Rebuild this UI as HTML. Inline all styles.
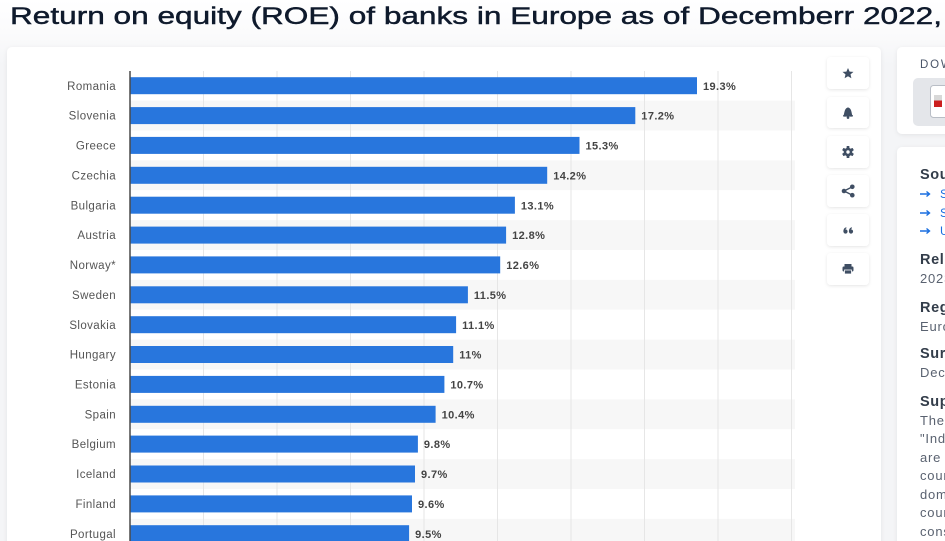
<!DOCTYPE html>
<html><head><meta charset="utf-8">
<style>
html,body{margin:0;padding:0;width:945px;height:541px;overflow:hidden;background:#f4f5f7;}
svg{display:block;}
text{font-family:"Liberation Sans",Arial,sans-serif;}
</style></head>
<body>
<svg width="945" height="541" viewBox="0 0 945 541" xmlns="http://www.w3.org/2000/svg">
<defs>
<linearGradient id="bg" x1="0" y1="0" x2="0" y2="1">
<stop offset="0" stop-color="#ffffff"/><stop offset="0.06" stop-color="#fbfbfc"/><stop offset="0.12" stop-color="#f4f5f7"/><stop offset="1" stop-color="#f4f5f7"/>
</linearGradient>
<filter id="sh" x="-10%" y="-10%" width="120%" height="120%"><feDropShadow dx="0" dy="1" stdDeviation="2" flood-color="#000" flood-opacity="0.07"/></filter>
<filter id="sh2" x="-30%" y="-30%" width="160%" height="160%"><feDropShadow dx="0" dy="1" stdDeviation="1.5" flood-color="#000" flood-opacity="0.10"/></filter>
</defs>
<rect x="0" y="0" width="945" height="541" fill="url(#bg)"/>
<text x="10" y="24" font-size="24" fill="#0f1a2c" stroke="#0f1a2c" stroke-width="0.45" textLength="932" lengthAdjust="spacingAndGlyphs">Return on equity (ROE) of banks in Europe as of Decemberr 2022,</text>

<!-- main card -->
<rect x="7" y="47" width="874" height="520" rx="5" fill="#ffffff" filter="url(#sh)"/>

<!-- stripes -->
<g fill="#f7f7f7">
<rect x="130" y="100.6" width="665" height="29.9"/>
<rect x="130" y="160.3" width="665" height="29.9"/>
<rect x="130" y="220.1" width="665" height="29.9"/>
<rect x="130" y="279.8" width="665" height="29.9"/>
<rect x="130" y="339.6" width="665" height="29.9"/>
<rect x="130" y="399.3" width="665" height="29.9"/>
<rect x="130" y="459.1" width="665" height="29.9"/>
<rect x="130" y="518.8" width="665" height="29.9"/>
</g>
<!-- gridlines -->
<g stroke="#e6e6e6" stroke-width="1">
<line x1="203.5" y1="71" x2="203.5" y2="541"/>
<line x1="277" y1="71" x2="277" y2="541"/>
<line x1="350.5" y1="71" x2="350.5" y2="541"/>
<line x1="424" y1="71" x2="424" y2="541"/>
<line x1="497.5" y1="71" x2="497.5" y2="541"/>
<line x1="571" y1="71" x2="571" y2="541"/>
<line x1="644.5" y1="71" x2="644.5" y2="541"/>
<line x1="718" y1="71" x2="718" y2="541"/>
<line x1="791.5" y1="71" x2="791.5" y2="541"/>
</g>

<!-- bars -->
<g fill="#2876dd">
<rect x="130" y="77.2" width="567.0" height="17"/>
<rect x="130" y="107.1" width="505.3" height="17"/>
<rect x="130" y="136.9" width="449.5" height="17"/>
<rect x="130" y="166.8" width="417.2" height="17"/>
<rect x="130" y="196.7" width="384.9" height="17"/>
<rect x="130" y="226.6" width="376.1" height="17"/>
<rect x="130" y="256.4" width="370.2" height="17"/>
<rect x="130" y="286.3" width="337.9" height="17"/>
<rect x="130" y="316.2" width="326.1" height="17"/>
<rect x="130" y="346.0" width="323.2" height="17"/>
<rect x="130" y="375.9" width="314.4" height="17"/>
<rect x="130" y="405.8" width="305.6" height="17"/>
<rect x="130" y="435.6" width="287.9" height="17"/>
<rect x="130" y="465.5" width="285.0" height="17"/>
<rect x="130" y="495.4" width="282.0" height="17"/>
<rect x="130" y="525.2" width="279.1" height="17"/>
</g>
<line x1="130" y1="71" x2="130" y2="541" stroke="#4a4a4a" stroke-width="1.5"/>

<!-- category labels -->
<g font-size="11.5" fill="#555" text-anchor="end" letter-spacing="0.4">
<text x="116" y="89.8">Romania</text>
<text x="116" y="119.7">Slovenia</text>
<text x="116" y="149.5">Greece</text>
<text x="116" y="179.4">Czechia</text>
<text x="116" y="209.3">Bulgaria</text>
<text x="116" y="239.2">Austria</text>
<text x="116" y="269.0">Norway*</text>
<text x="116" y="298.9">Sweden</text>
<text x="116" y="328.8">Slovakia</text>
<text x="116" y="358.6">Hungary</text>
<text x="116" y="388.5">Estonia</text>
<text x="116" y="418.4">Spain</text>
<text x="116" y="448.2">Belgium</text>
<text x="116" y="478.1">Iceland</text>
<text x="116" y="508.0">Finland</text>
<text x="116" y="537.8">Portugal</text>
</g>
<!-- value labels -->
<g font-size="11" fill="#444" font-weight="bold" letter-spacing="0.4">
<text x="703" y="89.8">19.3%</text>
<text x="641.3" y="119.7">17.2%</text>
<text x="585.5" y="149.5">15.3%</text>
<text x="553.2" y="179.4">14.2%</text>
<text x="520.9" y="209.3">13.1%</text>
<text x="512.1" y="239.2">12.8%</text>
<text x="506.2" y="269.0">12.6%</text>
<text x="473.9" y="298.9">11.5%</text>
<text x="462.1" y="328.8">11.1%</text>
<text x="459.2" y="358.6">11%</text>
<text x="450.4" y="388.5">10.7%</text>
<text x="441.6" y="418.4">10.4%</text>
<text x="423.9" y="448.2">9.8%</text>
<text x="421.0" y="478.1">9.7%</text>
<text x="418.0" y="508.0">9.6%</text>
<text x="415.1" y="537.8">9.5%</text>
</g>

<!-- icon buttons -->
<g fill="#ffffff" filter="url(#sh2)">
<rect x="827" y="57" width="42" height="32" rx="4"/>
<rect x="827" y="97" width="42" height="31" rx="4"/>
<rect x="827" y="136" width="42" height="32" rx="4"/>
<rect x="827" y="175" width="42" height="32" rx="4"/>
<rect x="827" y="214" width="42" height="32" rx="4"/>
<rect x="827" y="253" width="42" height="32" rx="4"/>
</g>
<g fill="#3f4e63">
<polygon points="848,68 849.6,71.6 853.5,71.9 850.5,74.4 851.4,78.2 848,76.2 844.6,78.2 845.5,74.4 842.5,71.9 846.4,71.6"/>
<path d="M843.5,115.5 C844.5,114.5 844,108 848,107.5 C852,108 851.5,114.5 852.5,115.5 Z"/>
<rect x="843" y="115" width="10" height="1.6" rx="0.8"/>
<circle cx="848" cy="117.6" r="1.3"/>
<g transform="translate(848,152)">
<circle r="4.3"/>
<rect x="-1.4" y="-6" width="2.8" height="12" rx="0.5"/>
<rect x="-1.4" y="-6" width="2.8" height="12" rx="0.5" transform="rotate(60)"/>
<rect x="-1.4" y="-6" width="2.8" height="12" rx="0.5" transform="rotate(120)"/>
<circle r="1.7" fill="#ffffff"/>
</g>
<g>
<line x1="844" y1="191" x2="852" y2="187" stroke="#3f4e63" stroke-width="1.4"/>
<line x1="844" y1="191" x2="852" y2="195" stroke="#3f4e63" stroke-width="1.4"/>
<circle cx="844" cy="191" r="2.3"/>
<circle cx="852.3" cy="186.8" r="2.3"/>
<circle cx="852.3" cy="195.2" r="2.3"/>
</g>
<g>
<circle cx="845.5" cy="231.5" r="2.1"/>
<path d="M843.4,231.5 C843.4,229 844.5,227.7 846.3,227.2 L846.5,228.2 C845.3,228.7 844.9,229.6 845,231 Z"/>
<circle cx="851" cy="231.5" r="2.1"/>
<path d="M848.9,231.5 C848.9,229 850,227.7 851.8,227.2 L852,228.2 C850.8,228.7 850.4,229.6 850.5,231 Z"/>
</g>
<g>
<rect x="844.5" y="264" width="7" height="3" />
<rect x="842.5" y="266.5" width="11" height="5" rx="1.2"/>
<rect x="844.5" y="270" width="7" height="4" fill="#3f4e63" stroke="#ffffff" stroke-width="0.8"/>
</g>
</g>

<!-- right panels -->
<rect x="897" y="47" width="60" height="87" rx="5" fill="#ffffff" filter="url(#sh)"/>
<text x="920" y="68" font-size="11.5" fill="#4a5568" letter-spacing="1.8">DOWNLOAD</text>
<rect x="913" y="78" width="50" height="48" rx="5" fill="#e4e6ea"/>
<rect x="930.5" y="85.5" width="30" height="32" rx="3" fill="#ffffff" stroke="#b9bec6" stroke-width="1"/>
<rect x="934" y="95" width="8" height="6" fill="#d8d8d8"/>
<rect x="934" y="100.5" width="8" height="6.5" fill="#cc1f1f"/>

<rect x="897" y="147" width="60" height="420" rx="5" fill="#ffffff" filter="url(#sh)"/>
<text x="920" y="179" font-size="14.5" font-weight="bold" fill="#333d4a" letter-spacing="0.6">Source</text>
<g fill="#1a6fe0" font-size="12">
<path d="M920,194 H929 M926.5,191.5 L929.5,194 L926.5,196.5" stroke="#1a6fe0" stroke-width="1.4" fill="none"/>
<text x="940" y="198">Show sources information</text>
<path d="M920,213 H929 M926.5,210.5 L929.5,213 L926.5,215.5" stroke="#1a6fe0" stroke-width="1.4" fill="none"/>
<text x="940" y="217">Show publisher information</text>
<path d="M920,231 H929 M926.5,228.5 L929.5,231 L926.5,233.5" stroke="#1a6fe0" stroke-width="1.4" fill="none"/>
<text x="940" y="235">Use Ask Statista Research Service</text>
</g>
<g font-size="14.5" font-weight="bold" fill="#333d4a" letter-spacing="0.6">
<text x="920" y="264">Release date</text>
<text x="920" y="312">Region</text>
<text x="920" y="358">Survey time period</text>
<text x="920" y="406">Supplementary notes</text>
</g>
<g font-size="13" fill="#5a6270" letter-spacing="0.8">
<text x="920" y="283">2023</text>
<text x="920" y="331">Europe</text>
<text x="920" y="377">December 2022</text>
<text x="920" y="425">The figures</text>
<text x="920" y="443">"Indicators"</text>
<text x="920" y="462">are based</text>
<text x="920" y="480">countries</text>
<text x="920" y="499">domestic</text>
<text x="920" y="517">countries</text>
<text x="920" y="536">consolidated</text>
</g>
</svg>
</body></html>
